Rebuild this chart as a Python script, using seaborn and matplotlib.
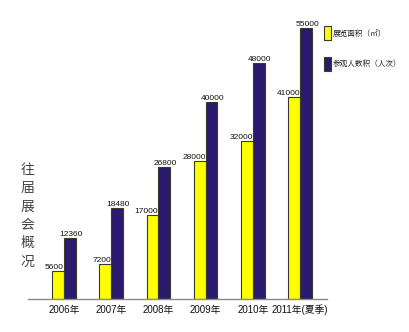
import matplotlib
matplotlib.use("Agg")
import matplotlib.pyplot as plt
import seaborn as sns
import pandas as pd

years = ["2006年", "2007年", "2008年", "2009年", "2010年", "2011年(夏季)"]
area = [5600, 7200, 17000, 28000, 32000, 41000]
visitors = [12360, 18480, 26800, 40000, 48000, 55000]
series_names = ["展览面积（㎡）", "参观人数积（人次）"]
title_text = "往届展会概况"

df = pd.DataFrame({
    "year": years * 2,
    "value": area + visitors,
    "series": [series_names[0]] * len(years) + [series_names[1]] * len(years),
})

sns.set_theme(style="white")
plt.rcParams["font.family"] = ["Noto Sans CJK SC", "DejaVu Sans"]
num_font = ["Liberation Sans", "Noto Sans CJK SC"]

fig = plt.figure(figsize=(4.10, 3.32), dpi=100)
ax = fig.add_axes([0.068, 0.0994, 0.73, 0.87])

yellow = "#FFFF00"
navy = "#2A1B6E"
sns.barplot(data=df, x="year", y="value", hue="series", palette=[yellow, navy],
            width=0.5, edgecolor="#3a3a2a", linewidth=0.8, ax=ax, saturation=1)

ax.set_ylim(0, 58650)
ax.set_xlim(-0.76, 5.57)
ax.set_xlabel("")
ax.set_ylabel("")
ax.set_yticks([])
for s in ["top", "right", "left"]:
    ax.spines[s].set_visible(False)
ax.spines["bottom"].set_color("#8a8a8a")
ax.spines["bottom"].set_linewidth(1.0)
ax.tick_params(axis="x", length=0, pad=4)
for lab in ax.get_xticklabels():
    lab.set_fontfamily(num_font)
    lab.set_fontsize(7)
    lab.set_color("#111111")

# value labels sitting on top of each bar
for ci, cont in enumerate(ax.containers):
    for bar in cont:
        h = bar.get_height()
        x0 = bar.get_x()
        w = bar.get_width()
        if ci == 0:
            ax.text(x0 + w, h, f"{int(h)}", ha="right", va="bottom",
                    fontsize=6, family=num_font, color="#111111")
        else:
            ax.text(x0 + w * 0.6, h, f"{int(h)}", ha="center", va="bottom",
                    fontsize=6, family=num_font, color="#111111")

leg = ax.legend(loc="upper left", bbox_to_anchor=(0.978, 0.955), frameon=False,
                fontsize=5.5, handlelength=0.9, handleheight=2.4,
                labelspacing=2.2, handletextpad=0.35, borderaxespad=0)
for t in leg.get_texts():
    t.set_color("#222222")

fig.text(0.066, 0.35, "\n".join(title_text), ha="center", va="center",
         fontsize=10, color="#444444", linespacing=1.4)

fig.savefig("out.png", dpi=100)
